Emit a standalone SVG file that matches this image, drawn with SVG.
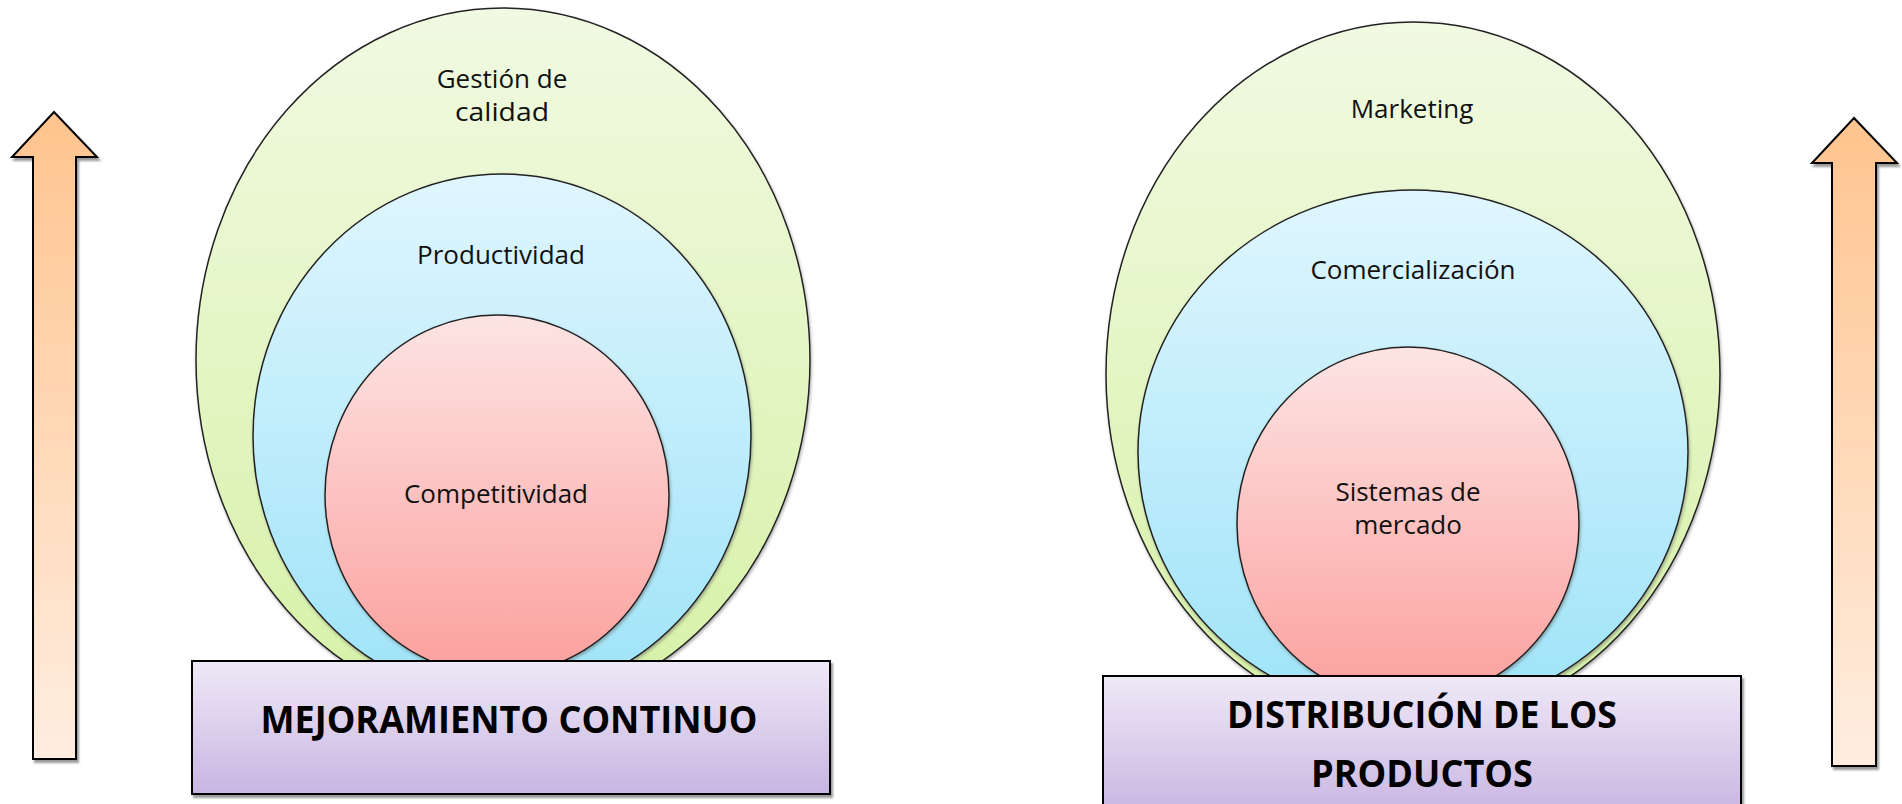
<svg xmlns="http://www.w3.org/2000/svg" width="1902" height="804" viewBox="0 0 1902 804">
<defs>
<linearGradient id="gArrow" x1="0" y1="0" x2="0" y2="1"><stop offset="0" stop-color="#FFC48E"/><stop offset="1" stop-color="#FFEDE0"/></linearGradient>
<linearGradient id="gGreen" x1="0" y1="0" x2="0" y2="1"><stop offset="0" stop-color="#F1FAE2"/><stop offset="1" stop-color="#D6F1A6"/></linearGradient>
<linearGradient id="gBlue" x1="0" y1="0" x2="0" y2="1"><stop offset="0" stop-color="#E0F6FE"/><stop offset="1" stop-color="#9DE3F8"/></linearGradient>
<linearGradient id="gPink" x1="0" y1="0" x2="0" y2="1"><stop offset="0" stop-color="#FDE4E4"/><stop offset="1" stop-color="#FBA09D"/></linearGradient>
<linearGradient id="gBox" x1="0" y1="0" x2="0" y2="1"><stop offset="0" stop-color="#EFE9F7"/><stop offset="1" stop-color="#C9B5E2"/></linearGradient>
<filter id="shadow" x="-10%" y="-10%" width="130%" height="130%"><feDropShadow dx="2" dy="3" stdDeviation="1.2" flood-color="#808080" flood-opacity="0.8"/></filter>
<filter id="soft" x="-10%" y="-10%" width="130%" height="130%"><feDropShadow dx="1" dy="2" stdDeviation="1.5" flood-color="#606060" flood-opacity="0.5"/></filter>
</defs>
<style>
.arrow{fill:url(#gArrow);stroke:#000;stroke-width:2;stroke-linejoin:miter;filter:url(#shadow)}
.green{fill:url(#gGreen);stroke:#222;stroke-width:1.5;filter:url(#soft)}
.blue{fill:url(#gBlue);stroke:#222;stroke-width:1.5;filter:url(#soft)}
.pink{fill:url(#gPink);stroke:#222;stroke-width:1.5;filter:url(#soft)}
.box{fill:url(#gBox);stroke:#000;stroke-width:2;filter:url(#shadow)}
.lbl{font-family:"Open Sans","Liberation Sans",sans-serif;font-size:26px;fill:#111;text-anchor:middle}
.ttl{font-family:"Open Sans","Liberation Sans",sans-serif;font-weight:bold;font-size:37px;fill:#000;text-anchor:middle}
</style>
<rect width="1902" height="804" fill="#fff"/>

<g id="arrow-left">
<polygon class="arrow" points="54,112 97,157 76,157 76,759 33,759 33,157 12,157"/>
</g>
<g id="arrow-right">
<polygon class="arrow" points="1854,118 1897,163 1876,163 1876,766 1832,766 1832,163 1812,163"/>
</g>

<g id="gestion-calidad">
<ellipse class="green" cx="503" cy="360" rx="307" ry="352"/>
<text class="lbl" x="502" y="88">Gestión de</text>
<text class="lbl" x="502" y="121" textLength="94" lengthAdjust="spacingAndGlyphs">calidad</text>
</g>
<g id="productividad">
<ellipse class="blue" cx="502" cy="436" rx="249" ry="262"/>
<text class="lbl" x="501" y="264">Productividad</text>
</g>
<g id="competitividad">
<ellipse class="pink" cx="497" cy="495" rx="172" ry="180"/>
<text class="lbl" x="496" y="503">Competitividad</text>
</g>
<g id="mejoramiento-continuo">
<rect class="box" x="192" y="661" width="638" height="133"/>
<text class="ttl" x="509" y="733" textLength="497" lengthAdjust="spacingAndGlyphs">MEJORAMIENTO CONTINUO</text>
</g>

<g id="marketing">
<ellipse class="green" cx="1413" cy="374" rx="307" ry="352"/>
<text class="lbl" x="1412" y="118">Marketing</text>
</g>
<g id="comercializacion">
<ellipse class="blue" cx="1413" cy="452" rx="275" ry="262"/>
<text class="lbl" x="1413" y="279">Comercialización</text>
</g>
<g id="sistemas-mercado">
<ellipse class="pink" cx="1408" cy="524" rx="171" ry="177"/>
<text class="lbl" x="1408" y="501">Sistemas de</text>
<text class="lbl" x="1408" y="534">mercado</text>
</g>
<g id="distribucion-productos">
<rect class="box" x="1103" y="676" width="638" height="140"/>
<text class="ttl" x="1422" y="728" textLength="390" lengthAdjust="spacingAndGlyphs">DISTRIBUCIÓN DE LOS</text>
<text class="ttl" x="1422" y="787" textLength="222" lengthAdjust="spacingAndGlyphs">PRODUCTOS</text>
</g>
</svg>
